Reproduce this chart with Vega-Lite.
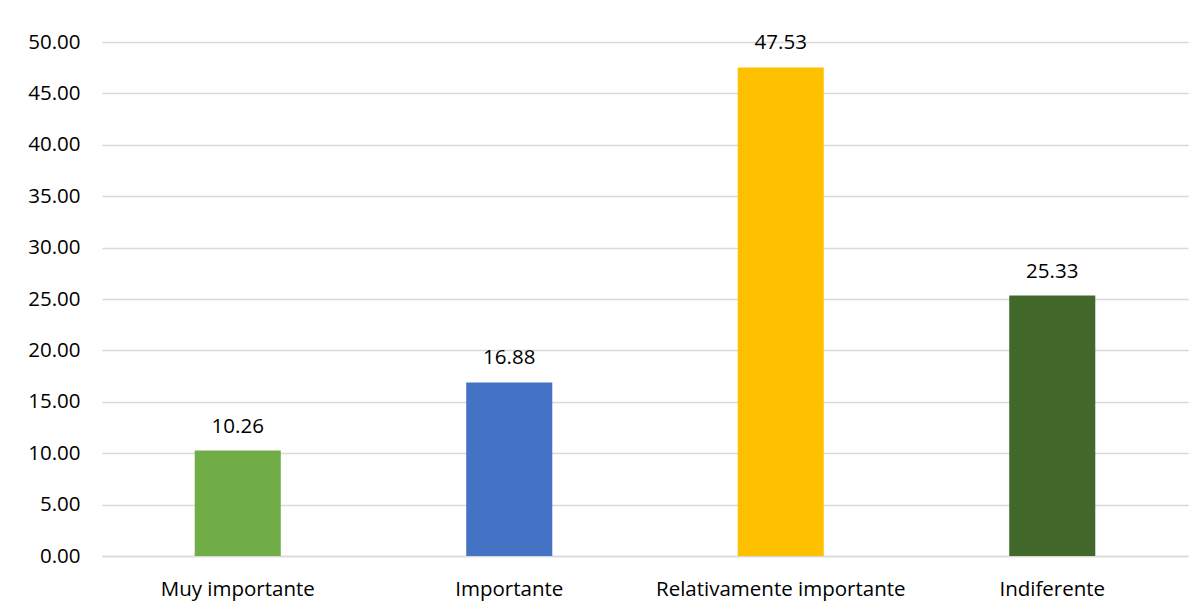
{
  "$schema": "https://vega.github.io/schema/vega-lite/v6.json",
  "autosize": {"type": "none"},
  "padding": {"left": 102, "top": 42, "right": 16, "bottom": 56},
  "width": 1086,
  "height": 514,
  "background": "white",
  "config": {
    "font": "Open Sans",
    "view": {"stroke": null}
  },
  "data": {
    "values": [
      {"categoria": "Muy importante", "valor": 10.26, "color": "#70AD47"},
      {"categoria": "Importante", "valor": 16.88, "color": "#4472C4"},
      {"categoria": "Relativamente importante", "valor": 47.53, "color": "#FFC000"},
      {"categoria": "Indiferente", "valor": 25.33, "color": "#43682B"}
    ]
  },
  "encoding": {
    "x": {
      "field": "categoria",
      "type": "nominal",
      "sort": null,
      "scale": {"paddingInner": 0, "paddingOuter": 0},
      "axis": {
        "title": null,
        "labelAngle": 0,
        "labelFont": "Open Sans",
        "labelFontSize": 20.5,
        "labelColor": "#000000",
        "labelPadding": 23,
        "labelLimit": 0,
        "ticks": false,
        "domain": true,
        "domainColor": "#D9D9D9",
        "domainWidth": 1.5,
        "grid": false
      }
    },
    "y": {
      "field": "valor",
      "type": "quantitative",
      "scale": {"domain": [0, 50], "nice": false},
      "axis": {
        "title": null,
        "values": [0, 5, 10, 15, 20, 25, 30, 35, 40, 45, 50],
        "format": ".2f",
        "labelFont": "Open Sans",
        "labelFontSize": 20.5,
        "labelColor": "#000000",
        "labelPadding": 22,
        "ticks": false,
        "domain": false,
        "grid": true,
        "gridColor": "#D9D9D9",
        "gridWidth": 1.5
      }
    }
  },
  "layer": [
    {
      "mark": {"type": "bar", "width": {"band": 0.317}},
      "encoding": {
        "color": {"field": "color", "type": "nominal", "scale": null, "legend": null}
      }
    },
    {
      "mark": {"type": "text", "baseline": "alphabetic", "dy": -18, "fontSize": 20.5, "font": "Open Sans", "color": "#000000"},
      "encoding": {
        "text": {"field": "valor", "type": "quantitative", "format": ".2f"}
      }
    }
  ]
}
